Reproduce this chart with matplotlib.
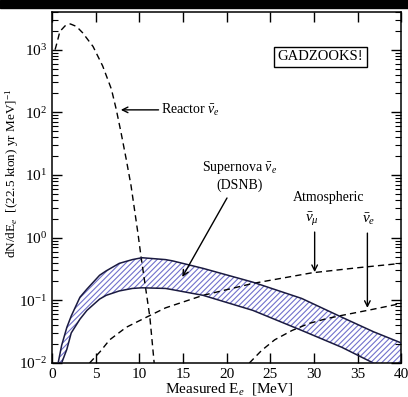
import numpy as np
import matplotlib
matplotlib.use("Agg")
import matplotlib.pyplot as plt
from matplotlib.patches import Rectangle
from matplotlib.ticker import LogLocator, MultipleLocator, NullFormatter

plt.rcParams['font.family'] = ['Liberation Serif', 'DejaVu Serif']
plt.rcParams['mathtext.fontset'] = 'custom'
plt.rcParams['mathtext.rm'] = 'Liberation Serif'
plt.rcParams['mathtext.it'] = 'Liberation Serif:italic'
plt.rcParams['hatch.linewidth'] = 0.8

# reactor anti-nu_e spectrum (E in MeV, log10 of rate)
reactor_E = [0.35, 0.55, 0.9, 1.5, 2.1, 2.8, 3.5, 4.7, 5.8, 6.8, 7.35, 7.9, 8.5,
             9.05, 9.3, 9.85, 10.2, 11.2, 11.7]
reactor_log = [3.0, 3.1, 3.29, 3.38, 3.41, 3.37, 3.27, 3.05, 2.74, 2.37, 2.05, 1.68,
               1.25, 0.83, 0.59, 0.06, -0.31, -1.26, -2.0]

# DSNB band, upper and lower edges
sn_E = [0.7, 1.1, 1.7, 2.2, 3.2, 4.0, 5.45, 6.2, 7.7, 9.2, 10.3, 13.0, 13.8, 17.3,
        23.0, 28.6, 33.2, 36.8, 40.0]
sn_hi_log = [-2.0, -1.72, -1.43, -1.25, -0.95, -0.82, -0.6, -0.53, -0.41, -0.35, -0.32,
             -0.35, -0.37, -0.49, -0.71, -0.97, -1.27, -1.50, -1.68]
sn_lo_log = [None, -2.0, -1.78, -1.52, -1.30, -1.16, -0.98, -0.92, -0.85, -0.81, -0.80,
             -0.81, -0.83, -0.92, -1.16, -1.48, -1.75, -2.0, None]

# atmospheric backgrounds
atm_mu_E = [4.3, 5.5, 6.6, 8.5, 10.8, 13.0, 17.3, 23.0, 29.8, 35.0, 40.0]
atm_mu_log = [-2.0, -1.82, -1.63, -1.43, -1.27, -1.12, -0.92, -0.73, -0.56, -0.48, -0.41]
atm_e_E = [22.6, 24.0, 25.5, 27.5, 29.4, 31.5, 33.2, 36.5, 40.0]
atm_e_log = [-2.0, -1.80, -1.63, -1.48, -1.37, -1.29, -1.24, -1.15, -1.05]

fig = plt.figure(figsize=(4.08, 3.97), dpi=100)
fig.patches.append(Rectangle((0, 0.979), 1, 0.021, transform=fig.transFigure,
                             color='black', zorder=0))
ax = fig.add_axes([0.1275, 0.0856, 0.856, 0.8844])

sn_E = np.array(sn_E)
hi = 10 ** np.array(sn_hi_log)
lo = np.array([1e-3 if v is None else 10 ** v for v in sn_lo_log])
ax.fill_between(sn_E, lo, hi, facecolor='white', edgecolor='#7070cc',
                hatch='//////', linewidth=0, zorder=1)
ax.plot(sn_E, hi, color='#1a1a40', lw=1.1, zorder=3)
mask = np.array([v is not None for v in sn_lo_log])
ax.plot(sn_E[mask], lo[mask], color='#1a1a40', lw=1.1, zorder=3)

dash = dict(color='black', lw=1.0, ls=(0, (4.5, 3)), zorder=2)
ax.plot(reactor_E, 10 ** np.array(reactor_log), **dash)
ax.plot(atm_mu_E, 10 ** np.array(atm_mu_log), **dash)
ax.plot(atm_e_E, 10 ** np.array(atm_e_log), **dash)

ax.set_yscale('log')
ax.set_xlim(0, 40)
ax.set_ylim(1e-2, 4e3)
ax.xaxis.set_major_locator(MultipleLocator(5))
ax.yaxis.set_major_locator(LogLocator(base=10, numticks=10))
ax.yaxis.set_minor_locator(LogLocator(base=10, subs=np.arange(2, 10), numticks=10))
ax.yaxis.set_minor_formatter(NullFormatter())
ax.tick_params(which='both', direction='in', top=True, right=True, labelsize=11)
ax.tick_params(which='major', length=7, width=1)
ax.tick_params(which='minor', length=4, width=0.8)
for s in ax.spines.values():
    s.set_linewidth(1.1)

ax.set_xlabel('Measured E$_e$  [MeV]', fontsize=11)
ax.xaxis.set_label_coords(0.507, -0.05)
ax.set_ylabel('dN/dE$_e$  [(22.5 kton) yr MeV]$^{-1}$', fontsize=9.5)
ax.yaxis.set_label_coords(-0.088, 0.54)

ax.text(0.769, 0.872, 'GADZOOKS!', transform=ax.transAxes, ha='center', va='center',
        fontsize=10.5, bbox=dict(boxstyle='square,pad=0.25', fc='white', ec='black', lw=1))

arrow = dict(arrowstyle='->', color='black', lw=1, shrinkA=0, shrinkB=0)
ax.annotate(r'Reactor $\bar{\nu}_e$', xy=(0.197, 0.721), xytext=(0.313, 0.721),
            xycoords='axes fraction', textcoords='axes fraction', ha='left', va='center',
            fontsize=10, arrowprops=arrow)
ax.text(0.536, 0.556, r'Supernova $\bar{\nu}_e$', transform=ax.transAxes,
        ha='center', va='center', fontsize=10)
ax.text(0.536, 0.507, '(DSNB)', transform=ax.transAxes, ha='center', va='center', fontsize=10)
ax.annotate('', xy=(0.373, 0.245), xytext=(0.501, 0.470), xycoords='axes fraction',
            textcoords='axes fraction', arrowprops=arrow)
ax.text(0.792, 0.470, 'Atmospheric', transform=ax.transAxes, ha='center', va='center',
        fontsize=10)
ax.text(0.744, 0.410, r'$\bar{\nu}_\mu$', transform=ax.transAxes, ha='center', va='center',
        fontsize=11)
ax.text(0.906, 0.410, r'$\bar{\nu}_e$', transform=ax.transAxes, ha='center', va='center',
        fontsize=11)
ax.annotate('', xy=(0.752, 0.259), xytext=(0.752, 0.373), xycoords='axes fraction',
            textcoords='axes fraction', arrowprops=arrow)
ax.annotate('', xy=(0.903, 0.157), xytext=(0.903, 0.370), xycoords='axes fraction',
            textcoords='axes fraction', arrowprops=arrow)

fig.savefig('out.png', dpi=100)
